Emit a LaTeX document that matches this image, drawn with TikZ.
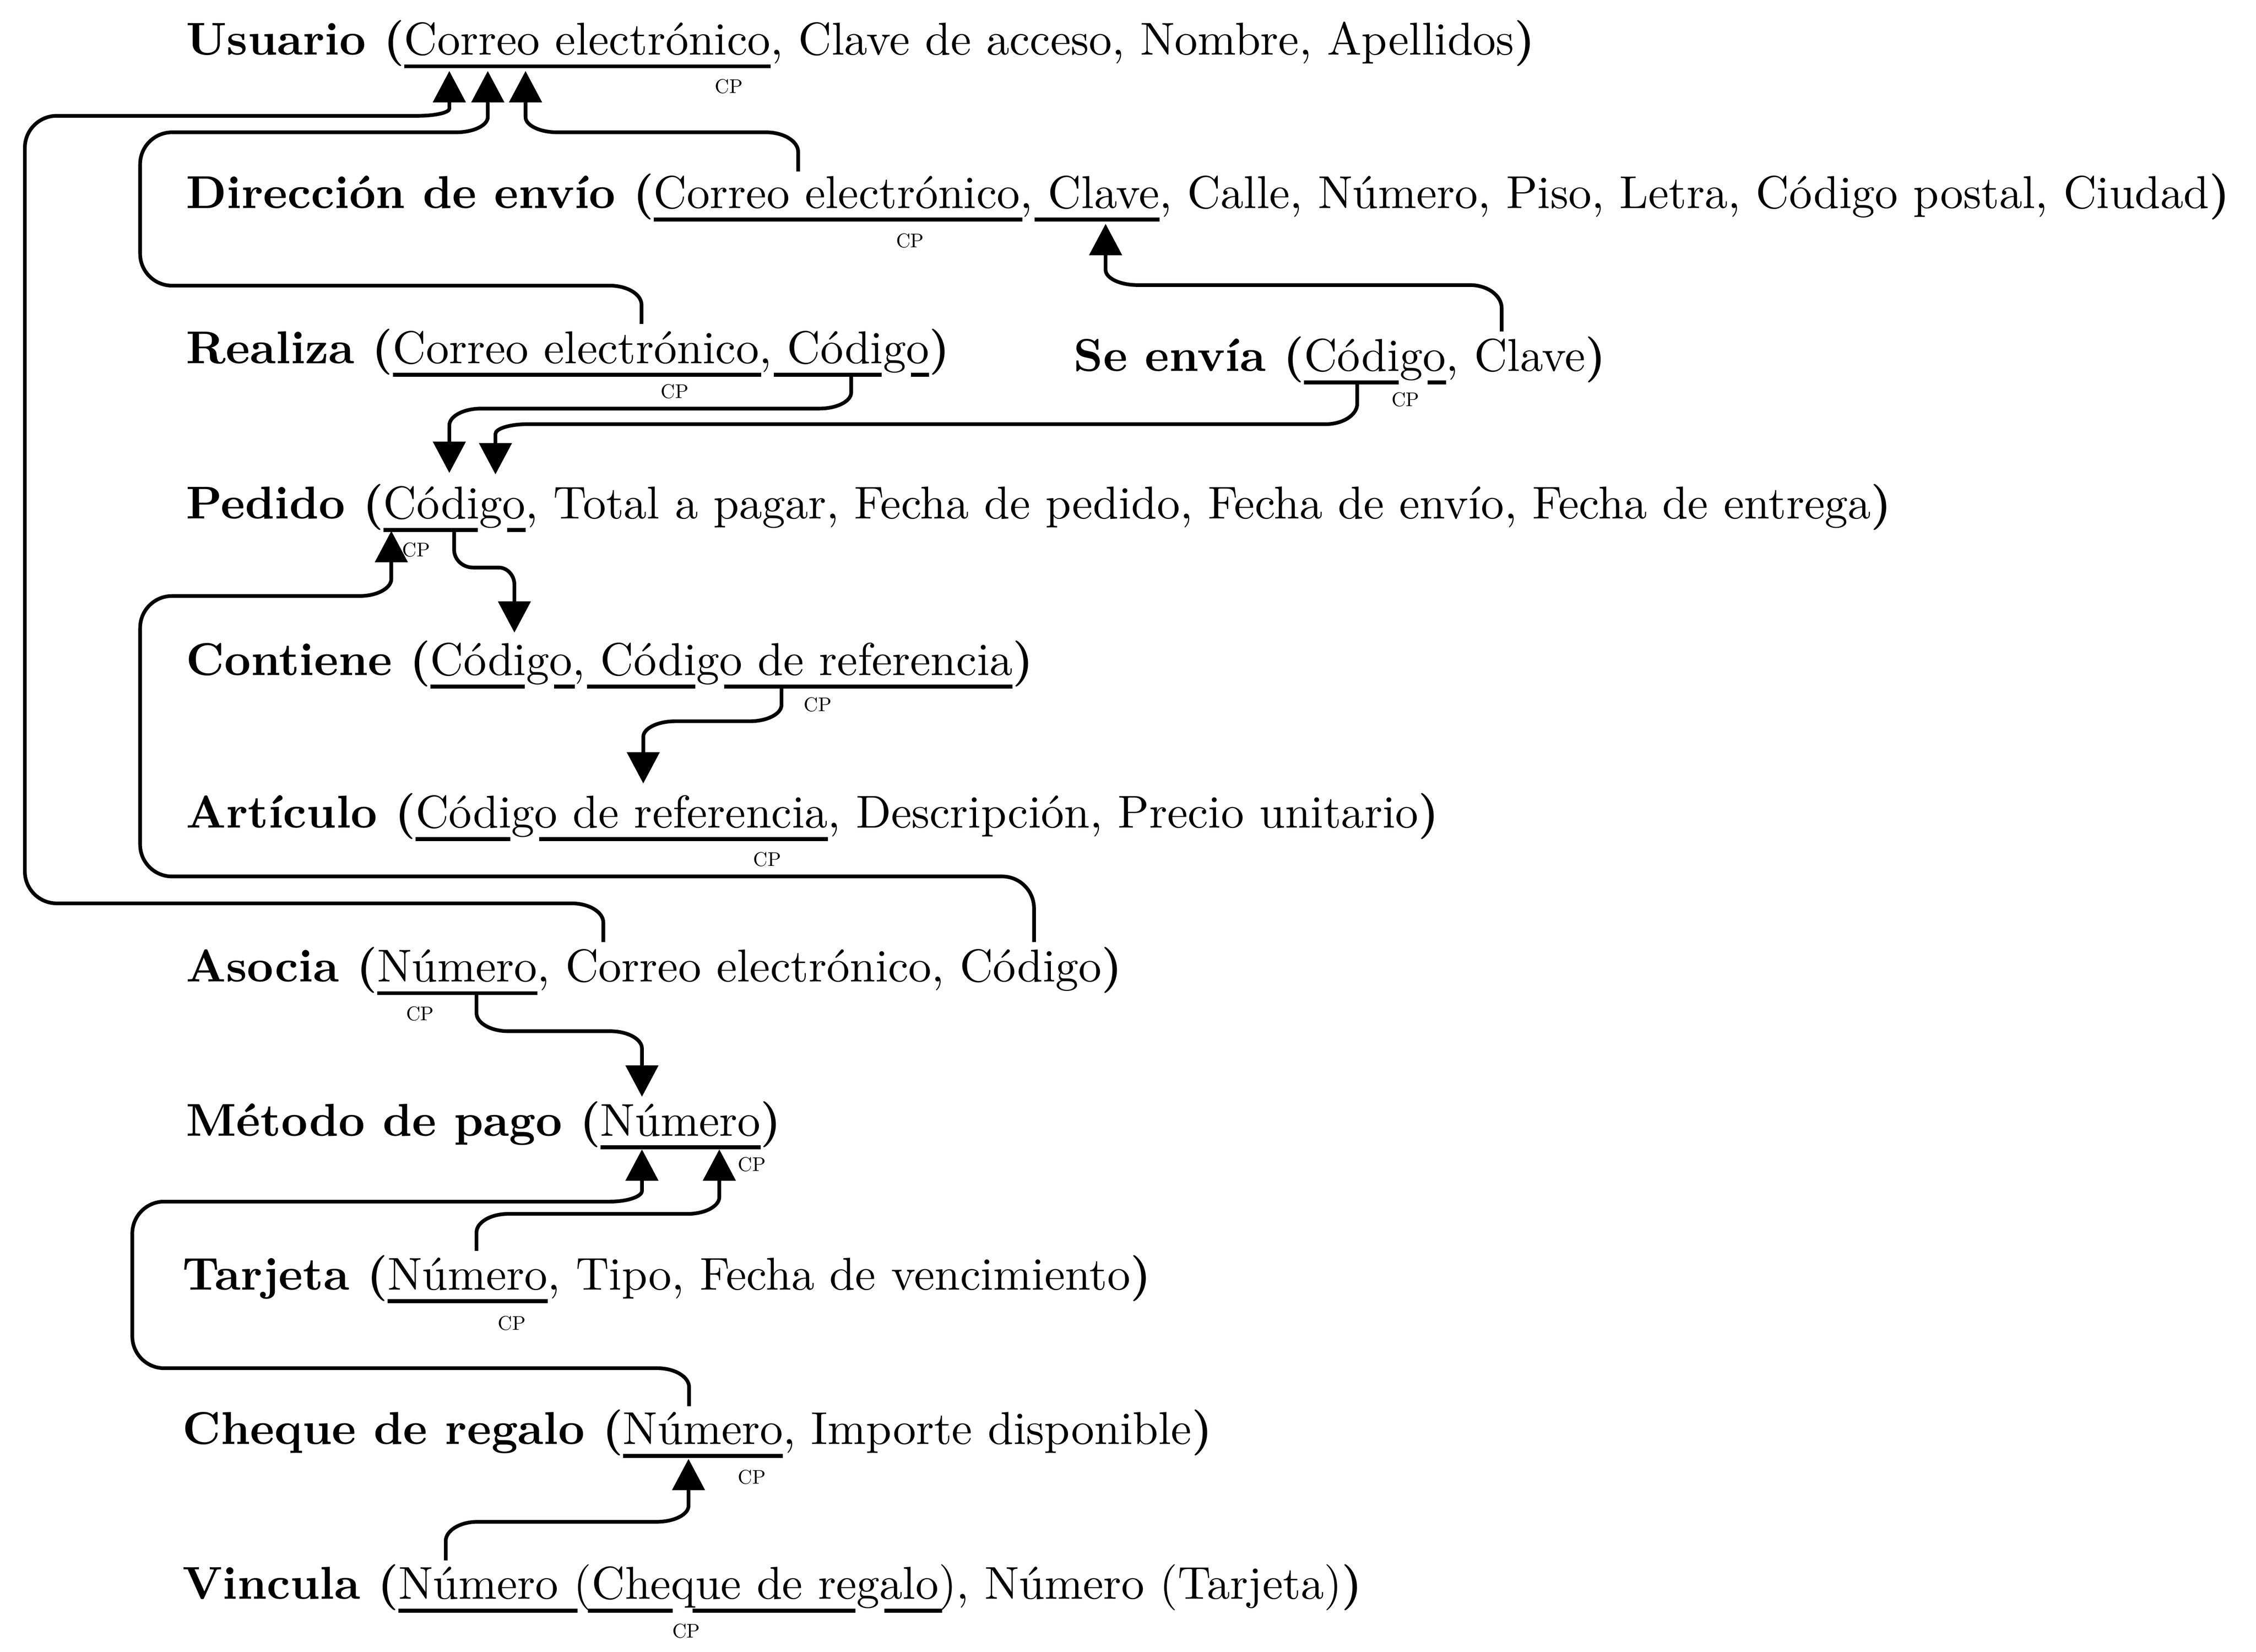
\documentclass[tikz,border=0pt]{standalone}
\usepackage{fontspec}
\usepackage{graphicx}
\usetikzlibrary{arrows.meta}
% underlined key (primary key)
\newcommand\ukey[1]{\setbox0=\hbox{#1}\rlap{\rule[-2.9pt]{\wd0}{0.85pt}}#1}
% a descending character: the underline is interrupted below it
\newcommand\dg[3]{\setbox2=\hbox{#3}\rlap{\kern-#1\textcolor{white}{\rule[-3.1pt]{\dimexpr\wd2+#1+#2\relax}{1.15pt}}}#3}
\newcommand\dsG{\dg{0.3pt}{1.0pt}{g}}
\newcommand\dsC{\dg{-0.5pt}{0.4pt}{,}}
\newcommand\dsQ{\dg{-0.4pt}{-0.6pt}{q}}
\newcommand\dsL{\dg{-0.8pt}{-0.8pt}{(}}
\newcommand\dsR{\dg{-0.8pt}{0pt}{)}}
\newcommand\cpmark{\scalebox{0.43}{CP}}
\tikzset{
  rowtext/.style={anchor=base west, inner sep=0pt, outer sep=0pt},
  cplabel/.style={inner sep=0pt, anchor=center},
  fk/.style={line width=0.8pt, -{Triangle[length=6.8pt,width=7pt]}},
}
\begin{document}
\begin{tikzpicture}[x=0.314pt,y=-0.314pt]
\useasboundingbox (0,0) rectangle (1560,1142);

% ---------- relations ----------
\node[rowtext] (usuario)   at (128.7,38.0)   {\textbf{Usuario (}\ukey{Correo electrónico}, Clave de acceso, Nombre, Apellidos\textbf{)}};
\node[rowtext] (direccion) at (128.7,143.9)  {\textbf{Dirección de envío (}\ukey{Correo electrónico\dsC{} Clave}, Calle, Número, Piso, Letra, Código postal, Ciudad\textbf{)}};
\node[rowtext] (realiza)   at (128.7,251.3)  {\textbf{Realiza (}\ukey{Correo electrónico\dsC{} Códi\dsG{}o}\textbf{)}};
\node[rowtext] (seenvia)   at (742.5,256.5)  {\textbf{Se envía (}\ukey{Códi\dsG{}o}, Clave\textbf{)}};
\node[rowtext] (pedido)    at (128.7,358.5)  {\textbf{Pedido (}\ukey{Códi\dsG{}o}, Total a pagar, Fecha de pedido, Fecha de envío, Fecha de entrega\textbf{)}};
\node[rowtext] (contiene)  at (128.7,466.9)  {\textbf{Contiene (}\ukey{Códi\dsG{}o\dsC{} Códi\dsG{}o de referencia}\textbf{)}};
\node[rowtext] (articulo)  at (128.7,572.3)  {\textbf{Artículo (}\ukey{Códi\dsG{}o de referencia}, Descripción, Precio unitario\textbf{)}};
\node[rowtext] (asocia)    at (128.7,678.8)  {\textbf{Asocia (}\ukey{Número}, Correo electrónico, Código\textbf{)}};
\node[rowtext] (metodo)    at (128.7,785.4)  {\textbf{Método de pago (}\ukey{Número}\textbf{)}};
\node[rowtext] (tarjeta)   at (126.3,891.7)  {\textbf{Tarjeta (}\ukey{Número}, Tipo, Fecha de vencimiento\textbf{)}};
\node[rowtext] (cheque)    at (126.3,998.7)  {\textbf{Cheque de regalo (}\ukey{Número}, Importe disponible\textbf{)}};
\node[rowtext] (vincula)   at (126.3,1105.7) {\textbf{Vincula (}\ukey{Número \dsL{}Che\dsQ{}ue de re\dsG{}alo\dsR{}}, Número (Tarjeta)\textbf{)}};

% ---------- CP labels ----------
\node[cplabel] (cpUsu) at (504.1,59.9) {\cpmark};
\node[cplabel] (cpDir) at (629.3,166.5) {\cpmark};
\node[cplabel] (cpRea) at (466.5,270.6) {\cpmark};
\node[cplabel] (cpSen) at (971.8,276.2) {\cpmark};
\node[cplabel] (cpPed) at (287.8,380.2) {\cpmark};
\node[cplabel] (cpCon) at (565.4,487.3) {\cpmark};
\node[cplabel] (cpArt) at (530.5,594.2) {\cpmark};
\node[cplabel] (cpAso) at (290.4,700.9) {\cpmark};
\node[cplabel] (cpMet) at (519.9,805.2) {\cpmark};
\node[cplabel] (cpTar) at (354.0,914.9) {\cpmark};
\node[cplabel] (cpChe) at (519.9,1021.2) {\cpmark};
\node[cplabel] (cpVin) at (474.5,1127.8) {\cpmark};

% ---------- connector ends ----------
\coordinate (usuIn1) at (310.7,49.1);
\coordinate (usuIn2) at (337.3,49.1);
\coordinate (usuIn3) at (363.4,49.1);
\coordinate (dirOut) at (551.9,118.6);
\coordinate (dirIn)  at (764.5,154.8);
\coordinate (reaOutA) at (443.6,224.0);
\coordinate (reaOutB) at (588.6,260.2);
\coordinate (senOutA) at (938.5,265.0);
\coordinate (senOutB) at (1038.4,229.2);
\coordinate (pedIn1) at (310.7,327.0);
\coordinate (pedIn2) at (342.6,328.0);
\coordinate (pedIn3) at (270.6,367.1);
\coordinate (pedOut) at (314.0,367.7);
\coordinate (conIn)  at (355.7,437.4);
\coordinate (conOut) at (540.4,476.1);
\coordinate (artIn)  at (444.8,541.7);
\coordinate (asoOutA) at (417.2,651.3);
\coordinate (asoOutB) at (715.0,651.3);
\coordinate (asoOutC) at (329.5,688.0);
\coordinate (metIn1) at (443.9,758.3);
\coordinate (metIn2) at (443.9,794.7);
\coordinate (metIn3) at (497.4,794.7);
\coordinate (tarOut) at (329.5,864.9);
\coordinate (cheOut) at (476.5,972.3);
\coordinate (cheIn)  at (476.1,1008.7);
\coordinate (vinOut) at (308.2,1078.9);

% ---------- connectors ----------
% Asocia (Correo) -> Usuario
\draw[fk] (asoOutA) -- (417.2,637.95) .. controls (417.2,630.61) and (407.3,624.6) .. (395.2,624.6)
  -- (39.2,624.6) .. controls (27.1,624.6) and (17.2,614.7) .. (17.2,602.6)
  -- (17.2,102.1) .. controls (17.2,90.0) and (27.1,80.1) .. (39.2,80.1)
  -- (288.7,80.1) .. controls (300.8,80.1) and (310.7,77.9) .. (310.7,75.2) -- (usuIn1);
% Realiza (Correo) -> Usuario
\draw[fk] (reaOutA) -- (443.6,210.75) .. controls (443.6,203.46) and (433.7,197.5) .. (421.6,197.5)
  -- (118.9,197.5) .. controls (106.8,197.5) and (96.9,187.6) .. (96.9,175.5)
  -- (96.9,113.5) .. controls (96.9,101.4) and (106.8,91.5) .. (118.9,91.5)
  -- (315.3,91.5) .. controls (327.4,91.5) and (337.3,86.73) .. (337.3,80.9) -- (usuIn2);
% Direccion (Correo) -> Usuario
\draw[fk] (dirOut) -- (551.9,105.05) .. controls (551.9,97.6) and (541.8,91.5) .. (529.9,91.5)
  -- (385.4,91.5) .. controls (373.3,91.5) and (363.4,86.73) .. (363.4,80.9) -- (usuIn3);
% Se envia (Clave) -> Direccion (Clave)
\draw[fk] (senOutB) -- (1038.4,213.15) .. controls (1038.4,204.32) and (1028.5,197.1) .. (1016.4,197.1)
  -- (786.5,197.1) .. controls (774.4,197.1) and (764.5,192.38) .. (764.5,186.6) -- (dirIn);
% Realiza (Codigo) -> Pedido
\draw[fk] (reaOutB) -- (588.6,271.35) .. controls (588.6,277.48) and (578.7,282.5) .. (566.6,282.5)
  -- (332.7,282.5) .. controls (320.6,282.5) and (310.7,287.74) .. (310.7,294.15) -- (pedIn1);
% Se envia (Codigo) -> Pedido
\draw[fk] (senOutA) -- (938.5,279.15) .. controls (938.5,286.93) and (928.6,293.3) .. (916.5,293.3)
  -- (364.6,293.3) .. controls (352.5,293.3) and (342.6,296.34) .. (342.6,300.05) -- (pedIn2);
% Pedido -> Contiene
\draw[fk] (pedOut) -- (314,380.05) .. controls (314,386.84) and (319.85,392.4) .. (327,392.4)
  -- (344.7,392.4) .. controls (350.75,392.4) and (355.7,397.75) .. (355.7,404.3) -- (conIn);
% Asocia (Codigo) -> Pedido
\draw[fk] (asoOutB) -- (715,628) .. controls (715,615.9) and (705.1,606) .. (693,606)
  -- (118.9,606) .. controls (106.8,606) and (96.9,596.1) .. (96.9,584)
  -- (96.9,434.1) .. controls (96.9,422) and (106.8,412.1) .. (118.9,412.1)
  -- (248.6,412.1) .. controls (260.7,412.1) and (270.6,406.77) .. (270.6,400.25) -- (pedIn3);
% Contiene -> Articulo
\draw[fk] (conOut) -- (540.4,487.4) .. controls (540.4,493.62) and (530.5,498.7) .. (518.4,498.7)
  -- (466.8,498.7) .. controls (454.7,498.7) and (444.8,503.67) .. (444.8,509.55) -- (artIn);
% Asocia (Numero) -> Metodo de pago
\draw[fk] (asoOutC) -- (329.5,700.5) .. controls (329.5,707.38) and (339.4,713) .. (351.5,713)
  -- (421.9,713) .. controls (434,713) and (443.9,718.4) .. (443.9,725) -- (metIn1);
% Tarjeta -> Metodo de pago
\draw[fk] (tarOut) -- (329.5,852.1) .. controls (329.5,845.06) and (339.4,839.3) .. (351.5,839.3)
  -- (475.4,839.3) .. controls (487.5,839.3) and (497.4,834.06) .. (497.4,827.65) -- (metIn3);
% Cheque de regalo -> Metodo de pago
\draw[fk] (cheOut) -- (476.5,959.15) .. controls (476.5,951.92) and (466.6,946) .. (454.5,946)
  -- (113.5,946) .. controls (101.4,946) and (91.5,936.1) .. (91.5,924)
  -- (91.5,852.8) .. controls (91.5,840.7) and (101.4,830.8) .. (113.5,830.8)
  -- (421.9,830.8) .. controls (434,830.8) and (443.9,827.33) .. (443.9,823.4) -- (metIn2);
% Vincula -> Cheque de regalo
\draw[fk] (vinOut) -- (308.2,1065.55) .. controls (308.2,1058.21) and (318.1,1052.2) .. (330.2,1052.2)
  -- (454.1,1052.2) .. controls (466.2,1052.2) and (476.1,1047.2) .. (476.1,1041.1) -- (cheIn);
\end{tikzpicture}
\end{document}
